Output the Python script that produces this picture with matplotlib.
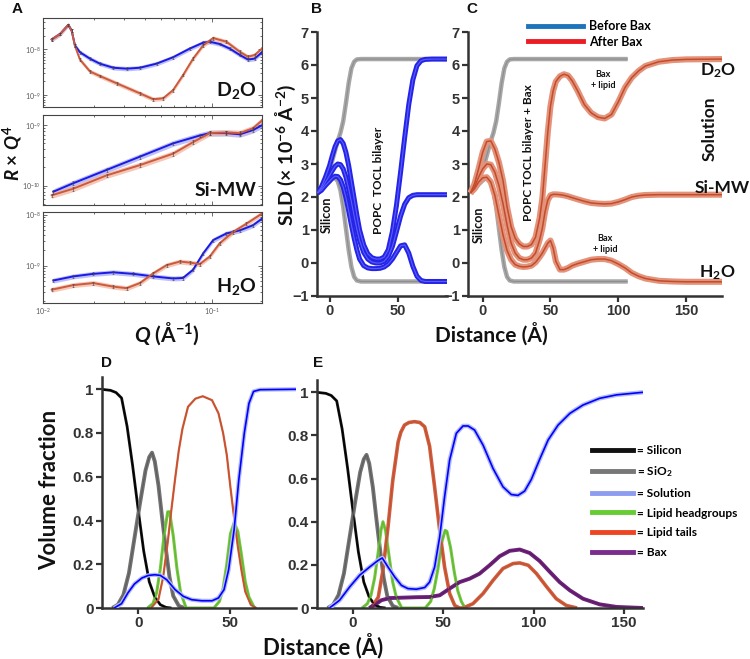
import numpy as np
import matplotlib.pyplot as plt
from matplotlib.lines import Line2D
from matplotlib.ticker import NullFormatter

plt.rcParams['font.family'] = ['Lato', 'DejaVu Sans']
plt.rcParams['mathtext.fontset'] = 'custom'
plt.rcParams['mathtext.rm'] = 'Lato:bold'
plt.rcParams['mathtext.it'] = 'Lato:italic:bold'
plt.rcParams['mathtext.bf'] = 'Lato:bold'

TICK_FONT = 'Liberation Sans'
INK = '#333333'
W, H = 750, 659

# ---------------- A: reflectivity  R x Q^4  (Q in 1/A, values as log10)
q_d2o_before = [0.01126, 0.01262, 0.01412, 0.01479, 0.01546, 0.01655, 0.01897, 0.0217, 0.0261, 0.0313,
                0.0375, 0.0471, 0.059, 0.0741, 0.0889, 0.0973, 0.1115, 0.1278, 0.1466, 0.164, 0.1796, 0.1985]
r_d2o_before = [-7.78, -7.66, -7.46, -7.59, -7.91, -8.06, -8.20, -8.31, -8.40, -8.42,
                -8.40, -8.31, -8.17, -7.98, -7.85, -7.83, -7.88, -7.98, -8.12, -8.22, -8.20, -8.06]
q_d2o_after = [0.01126, 0.01262, 0.01412, 0.01479, 0.01546, 0.01655, 0.01897, 0.0217, 0.0273, 0.0375, 0.045,
               0.0515, 0.059, 0.0676, 0.0775, 0.0889, 0.1019, 0.1222, 0.1466, 0.164, 0.1796, 0.1985]
r_d2o_after = [-7.78, -7.66, -7.46, -7.59, -7.92, -8.22, -8.48, -8.58, -8.74, -8.96, -9.09,
               -9.07, -8.89, -8.56, -8.20, -7.91, -7.75, -7.83, -8.05, -8.16, -8.12, -7.98]

q_simw_before = [0.01151, 0.0151, 0.0238, 0.0375, 0.059, 0.0849, 0.0973, 0.1222, 0.1466, 0.1754, 0.1985]
r_simw_before = [-10.10, -9.96, -9.74, -9.52, -9.30, -9.17, -9.13, -9.13, -9.15, -9.08, -9.00]
q_simw_after = [0.01126, 0.0151, 0.0238, 0.0375, 0.059, 0.0775, 0.0973, 0.1222, 0.1466, 0.1754, 0.1985]
r_simw_after = [-10.16, -10.05, -9.83, -9.66, -9.47, -9.28, -9.13, -9.12, -9.13, -9.05, -8.92]

q_h2o_before = [0.01151, 0.0151, 0.01986, 0.0261, 0.0342, 0.045, 0.059, 0.0676, 0.0775, 0.0889, 0.1019,
                0.1222, 0.1466, 0.1754, 0.1985]
r_h2o_before = [-9.29, -9.21, -9.16, -9.13, -9.16, -9.21, -9.25, -9.24, -9.08, -8.76, -8.50,
                -8.37, -8.31, -8.21, -8.08]
q_h2o_after = [0.01126, 0.0151, 0.01986, 0.0261, 0.0313, 0.0375, 0.045, 0.054, 0.0647, 0.0741, 0.0849,
               0.0973, 0.1115, 0.1339, 0.1602, 0.1985]
r_h2o_after = [-9.47, -9.38, -9.34, -9.41, -9.44, -9.34, -9.15, -8.99, -8.92, -8.94, -8.97,
               -8.82, -8.56, -8.34, -8.18, -7.98]

a_names = ['D$_2$O', 'Si-MW', 'H$_2$O']
a_ylims = [(-9.26, -7.31), (-10.32, -8.83), (-9.73, -7.95)]

# ---------------- B / C: SLD profiles (x 1e-6 A^-2)
sub_x = [-9, -6, -3, 0, 2, 4, 6, 8, 10, 12, 14, 16, 18, 20, 23, 26]
sub_d2o = [2.12, 2.3, 2.55, 2.85, 3.1, 3.4, 3.7, 3.95, 4.3, 4.85, 5.45, 5.9, 6.1, 6.17, 6.18, 6.18]
sub_h2o = [2.12, 2.22, 2.38, 2.5, 2.56, 2.57, 2.48, 2.2, 1.7, 1.05, 0.4, -0.12, -0.42, -0.53, -0.56, -0.56]

xb = [-9, -6, -3, 0, 2, 4, 6, 8, 10, 12, 14, 16, 18, 20, 22, 25, 28, 31, 34, 37, 40, 43, 46, 49, 52,
      55, 58, 61, 64, 67, 70, 75, 86]
sld_before_d2o = [2.12, 2.3, 2.6, 2.95, 3.25, 3.52, 3.7, 3.74, 3.62, 3.35, 2.95, 2.45, 1.95, 1.45, 1.0,
                  0.55, 0.28, 0.16, 0.12, 0.12, 0.18, 0.4, 0.95, 1.75, 2.75, 3.8, 4.8, 5.55, 5.98, 6.13,
                  6.17, 6.18, 6.18]
sld_before_simw = [2.12, 2.25, 2.45, 2.65, 2.8, 2.93, 3.0, 2.98, 2.85, 2.6, 2.25, 1.85, 1.42, 1.02, 0.68,
                   0.32, 0.12, 0.03, 0.0, 0.0, 0.05, 0.2, 0.5, 0.95, 1.42, 1.78, 1.98, 2.05, 2.07, 2.07,
                   2.07, 2.07, 2.07]
sld_before_h2o = [2.12, 2.2, 2.35, 2.48, 2.57, 2.63, 2.62, 2.52, 2.3, 1.98, 1.58, 1.15, 0.75, 0.4, 0.12,
                  -0.08, -0.15, -0.17, -0.17, -0.16, -0.12, -0.03, 0.12, 0.32, 0.52, 0.55, 0.3, -0.1,
                  -0.4, -0.53, -0.56, -0.56, -0.56]

xc = [-9, -6, -3, 0, 3, 6, 9, 12, 15, 18, 21, 24, 27, 30, 33, 36, 39, 42, 44, 46, 48, 50, 52, 54, 57,
      60, 63, 66, 70, 75, 80, 85, 90, 95, 100, 105, 110, 115, 120, 130, 140, 150, 177]
sld_after_d2o = [2.12, 2.4, 2.85, 3.35, 3.68, 3.7, 3.45, 3.05, 2.5, 1.7, 1.1, 0.75, 0.58, 0.5, 0.5, 0.56,
                 0.78, 1.35, 1.95, 2.95, 3.95, 4.75, 5.22, 5.5, 5.66, 5.72, 5.68, 5.52, 5.22, 4.8, 4.55,
                 4.42, 4.38, 4.5, 4.88, 5.32, 5.62, 5.82, 5.97, 6.1, 6.15, 6.17, 6.18]
sld_after_simw = [2.12, 2.3, 2.6, 2.85, 3.0, 2.98, 2.75, 2.35, 1.8, 1.15, 0.6, 0.3, 0.15, 0.1, 0.1, 0.15,
                  0.3, 0.7, 1.05, 1.55, 1.9, 2.05, 2.08, 2.08, 2.07, 2.05, 2.02, 1.98, 1.93, 1.87, 1.82,
                  1.8, 1.79, 1.8, 1.85, 1.92, 2.0, 2.04, 2.06, 2.07, 2.07, 2.07, 2.07]
sld_after_h2o = [2.12, 2.25, 2.45, 2.58, 2.6, 2.45, 2.05, 1.45, 0.85, 0.38, 0.1, -0.05, -0.1, -0.12, -0.11,
                 -0.08, 0.02, 0.18, 0.3, 0.45, 0.6, 0.68, 0.45, 0.05, -0.2, -0.2, -0.15, -0.08, -0.02,
                 0.04, 0.1, 0.12, 0.12, 0.07, -0.03, -0.15, -0.3, -0.4, -0.47, -0.54, -0.56, -0.57, -0.57]

# ---------------- D / E: volume fractions
si_x = [-20, -15, -12, -9, -6, -3, 0, 3, 6, 9, 12, 15, 18]
si_v = [1.0, 0.995, 0.985, 0.96, 0.83, 0.65, 0.45, 0.26, 0.12, 0.05, 0.015, 0.003, 0.0]
sio2_x = [-14, -11, -8, -5, -2, 1, 4, 6, 7.5, 9, 11, 13, 15, 17, 19, 22, 25]
sio2_v = [0.0, 0.015, 0.06, 0.16, 0.32, 0.48, 0.63, 0.69, 0.71, 0.67, 0.56, 0.41, 0.27, 0.14, 0.055, 0.01, 0.0]

d_head_x = [5, 8, 10, 12, 14, 16, 17, 19, 21, 23, 26, 41, 44, 46, 48, 50, 52, 54, 56, 58, 60, 63]
d_head_v = [0.0, 0.02, 0.07, 0.18, 0.33, 0.44, 0.44, 0.33, 0.18, 0.07, 0.0, 0.0, 0.03, 0.09, 0.2, 0.34,
            0.39, 0.35, 0.24, 0.12, 0.05, 0.0]
d_tail_x = [7, 11, 13.5, 16, 18, 20, 22, 24, 27, 31, 35, 40, 43.5, 46, 48, 50, 52, 54, 56, 58, 61, 64]
d_tail_v = [0.0, 0.04, 0.14, 0.3, 0.45, 0.59, 0.72, 0.82, 0.92, 0.957, 0.968, 0.95, 0.89, 0.8, 0.7, 0.55,
            0.41, 0.28, 0.17, 0.075, 0.015, 0.0]
d_sol_x = [-13, -9, -5.5, -2, 2, 5.5, 9, 12, 15.5, 20, 24.5, 29, 34.5, 40, 43.5, 46.5, 49, 52, 54.5, 57.5,
           60, 62.5, 66, 86]
d_sol_v = [0.0, 0.02, 0.07, 0.11, 0.137, 0.149, 0.152, 0.149, 0.129, 0.084, 0.053, 0.038, 0.033, 0.033,
           0.046, 0.084, 0.175, 0.36, 0.585, 0.8, 0.935, 0.99, 0.998, 1.0]

e_head_x = [5, 8, 10, 12, 14, 15.5, 16.6, 18, 20, 22, 24, 27, 40, 43, 45, 47, 49, 51, 52, 54, 56, 58, 60, 62]
e_head_v = [0.0, 0.02, 0.06, 0.14, 0.26, 0.36, 0.40, 0.36, 0.24, 0.12, 0.05, 0.0, 0.0, 0.03, 0.09, 0.18,
            0.3, 0.36, 0.355, 0.28, 0.17, 0.08, 0.03, 0.0]
e_tail_x = [10, 14, 16.6, 19.4, 22, 25, 26.5, 28.5, 31, 34, 37, 39.7, 42.4, 45.2, 48, 50.7, 53.5, 56.3, 59,
            61, 66.4, 72, 77.5, 83, 88.6, 92.3, 97, 101.5, 107, 112.5, 118, 124]
e_tail_v = [0.0, 0.05, 0.175, 0.376, 0.59, 0.77, 0.815, 0.848, 0.86, 0.864, 0.86, 0.84, 0.75, 0.56, 0.36,
            0.19, 0.067, 0.012, 0.0, 0.0, 0.02, 0.067, 0.128, 0.183, 0.206, 0.209, 0.198, 0.16, 0.1, 0.043,
            0.012, 0.0]
e_bax_x = [9, 13, 15.7, 20.3, 27.7, 35, 42.4, 48, 53.5, 59, 64.6, 70, 75.6, 81.2, 86.7, 92.3, 97.8, 103.3,
           109, 114.4, 120, 127.3, 136.5, 145.8, 160.5]
e_bax_v = [0.0, 0.02, 0.036, 0.046, 0.048, 0.05, 0.051, 0.059, 0.09, 0.12, 0.136, 0.159, 0.198, 0.24, 0.265,
           0.271, 0.255, 0.218, 0.167, 0.12, 0.082, 0.043, 0.017, 0.005, 0.0]
e_sol_x = [-13, -7.4, -1.8, 3.7, 9.2, 13.8, 16.2, 19.4, 23.1, 26.8, 30.4, 35, 39.7, 42.4, 45.2, 48, 50.7,
           53.5, 57.2, 60.9, 63.7, 67.3, 72, 77.5, 83, 87.6, 91.3, 95, 98.7, 103.3, 108, 113.5, 120, 127.3,
           136.5, 145.8, 160.5]
e_sol_v = [0.0, 0.036, 0.098, 0.152, 0.19, 0.22, 0.232, 0.19, 0.144, 0.105, 0.09, 0.087, 0.095, 0.12, 0.19,
           0.33, 0.515, 0.686, 0.81, 0.844, 0.844, 0.825, 0.755, 0.647, 0.562, 0.526, 0.522, 0.542, 0.596,
           0.689, 0.779, 0.848, 0.902, 0.941, 0.972, 0.988, 1.0]

legend_e_labels = ['= Silicon', '= SiO$_2$', '= Solution', '= Lipid headgroups', '= Lipid tails', '= Bax']
legend_e_colors = ['#111111', '#777777', '#8c9cf0', '#66cc33', '#ee4422', '#7a2d8c']


def box(x0, y0, x1, y1):
    # pixel box (top-left origin) -> figure fraction
    return [x0 / W, 1 - y1 / H, (x1 - x0) / W, (y1 - y0) / H]


def bold_ticks(ax, size):
    for lbl in ax.get_xticklabels() + ax.get_yticklabels():
        lbl.set_fontfamily(TICK_FONT)
        lbl.set_fontweight('bold')
        lbl.set_fontsize(size)


def style_profile(ax):
    for side in ('top', 'right'):
        ax.spines[side].set_visible(False)
    for side in ('left', 'bottom'):
        ax.spines[side].set_linewidth(1.8)
        ax.spines[side].set_color(INK)
    ax.tick_params(direction='out', length=4, width=1.6, color=INK, labelcolor=INK, pad=2)


def band_line(ax, x, y, outer, inner, w_out, w_in, z=2):
    ax.plot(x, y, color=outer, lw=w_out, solid_capstyle='butt', zorder=z)
    ax.plot(x, y, color=inner, lw=w_in, solid_capstyle='butt', zorder=z + 0.1)


fig = plt.figure(figsize=(7.5, 6.59), dpi=100)

# ---- panel A
a_boxes = [(43, 18, 262, 107), (43, 115, 262, 205), (43, 212, 262, 303)]
a_data = [(q_d2o_before, r_d2o_before, q_d2o_after, r_d2o_after),
          (q_simw_before, r_simw_before, q_simw_after, r_simw_after),
          (q_h2o_before, r_h2o_before, q_h2o_after, r_h2o_after)]
for i, (bx, (qb, rb, qa, ra)) in enumerate(zip(a_boxes, a_data)):
    ax = fig.add_axes(box(*bx))
    vb = 10.0 ** np.array(rb)
    va = 10.0 ** np.array(ra)
    ax.fill_between(qb, vb / 1.12, vb * 1.12, color='#a4a5f5', lw=0, alpha=0.7)
    ax.fill_between(qa, va / 1.12, va * 1.12, color='#f2b09a', lw=0, alpha=0.7)
    ax.plot(qb, vb, color='#1a1ae6', lw=1.4)
    ax.plot(qa, va, color='#cc5a3c', lw=1.4)
    for q, v in ((qb, vb), (qa, va)):
        ax.errorbar(q, v, yerr=v * 0.07, fmt='none', ecolor='#444444', elinewidth=0.4,
                    capsize=1.0, capthick=0.4)
    ax.set_xscale('log')
    ax.set_yscale('log')
    ax.set_xlim(0.01, 0.1985)
    ax.set_ylim(10 ** a_ylims[i][0], 10 ** a_ylims[i][1])
    ax.yaxis.set_minor_formatter(NullFormatter())
    ax.xaxis.set_minor_formatter(NullFormatter())
    ax.tick_params(which='both', direction='in', top=True, right=True, width=0.6,
                   color='#555555', labelcolor='#555555', labelsize=5, pad=2)
    ax.tick_params(which='major', length=3)
    ax.tick_params(which='minor', length=1.5)
    if i < 2:
        ax.tick_params(labelbottom=False)
    for s in ax.spines.values():
        s.set_linewidth(0.8)
        s.set_color('#444444')
    ax.text(0.975, 0.07, a_names[i], transform=ax.transAxes, ha='right', va='bottom',
            fontsize=14, fontweight='bold', color='#111111')

fig.text(12 / W, 1 - 153 / H, '$R$ × $Q^4$', rotation=90, ha='center', va='center',
         fontsize=13.5, fontweight='bold', color='#111111')
fig.text(167 / W, 1 - 334 / H, '$Q$ (Å$^{-1}$)', ha='center', va='center',
         fontsize=15, fontweight='bold', color='#111111')

# ---- panel B
axb = fig.add_axes(box(317, 32, 447, 296))
band_line(axb, sub_x + [86], sub_d2o + [sub_d2o[-1]], '#a8a8a8', '#8e8e8e', 3.2, 0.8)
band_line(axb, sub_x + [86], sub_h2o + [sub_h2o[-1]], '#a8a8a8', '#8e8e8e', 3.2, 0.8)
for y in (sld_before_d2o, sld_before_simw, sld_before_h2o):
    band_line(axb, xb, y, '#2424e6', '#5c5cff', 3.6, 0.8, z=3)
axb.set_xlim(-9.2, 86)
axb.set_ylim(-1, 7)
axb.set_xticks([0, 50])
axb.set_yticks(range(-1, 8))
style_profile(axb)
bold_ticks(axb, 10.5)
axb.text(-2.4, 1.45, 'Silicon', rotation=90, ha='center', va='center', fontsize=9,
         fontweight='bold', color='#111111')
axb.text(35.9, 2.5, 'POPC  TOCL bilayer', rotation=90, ha='center', va='center', fontsize=8.5,
         fontweight='bold', color='#111111')
fig.text(286 / W, 1 - 155 / H, 'SLD (× 10$^{-6}$ Å$^{-2}$)', rotation=90, ha='center', va='center',
         fontsize=14, fontweight='bold', color='#111111')

# ---- panel C
axc = fig.add_axes(box(468, 32, 722, 296))
band_line(axc, sub_x + [107], sub_d2o + [sub_d2o[-1]], '#a8a8a8', '#8e8e8e', 3.2, 0.8)
band_line(axc, sub_x + [107], sub_h2o + [sub_h2o[-1]], '#a8a8a8', '#8e8e8e', 3.2, 0.8)
for y in (sld_after_d2o, sld_after_simw, sld_after_h2o):
    band_line(axc, xc, y, '#e3937a', '#c44b2c', 4.4, 1.1, z=3)
axc.set_xlim(-10.8, 176.5)
axc.set_ylim(-1, 7)
axc.set_xticks([0, 50, 100, 150])
axc.set_yticks(range(-1, 8))
style_profile(axc)
bold_ticks(axc, 10.5)
axc.text(-3.2, 1.15, 'Silicon', rotation=90, ha='center', va='center', fontsize=9,
         fontweight='bold', color='#111111')
axc.text(33.7, 3.33, 'POPC TOCL bilayer + Bax', rotation=90, ha='center', va='center', fontsize=8.5,
         fontweight='bold', color='#111111')
axc.text(89, 5.54, 'Bax\n+ lipid', ha='center', va='center', fontsize=6.5, fontweight='bold',
         color='#111111', linespacing=1.3)
axc.text(90.5, 0.57, 'Bax\n+ lipid', ha='center', va='center', fontsize=6.5, fontweight='bold',
         color='#111111', linespacing=1.3)
for txt, px, py, rot in (('D$_2$O', 718, 71, 0), ('Solution', 710, 129, 90),
                         ('Si-MW', 722, 188, 0), ('H$_2$O', 717, 273, 0)):
    fig.text(px / W, 1 - py / H, txt, rotation=rot, ha='center', va='center', fontsize=12.5,
             fontweight='bold', color='#111111')
axc.legend([Line2D([], [], color='#1c75bc', lw=3.5), Line2D([], [], color='#ed1c24', lw=3.5)],
           ['Before Bax', 'After Bax'], loc='upper left', bbox_to_anchor=(528 / W, 1 - 20 / H),
           bbox_transform=fig.transFigure, frameon=False, handlelength=4.4, handletextpad=0.5,
           labelspacing=0.3, borderpad=0, borderaxespad=0,
           prop={'family': 'Lato', 'weight': 'bold', 'size': 9})

fig.text(491 / W, 1 - 334 / H, 'Distance (Å)', ha='center', va='center', fontsize=15,
         fontweight='bold', color='#111111')

# ---- panel D
axd = fig.add_axes(box(102, 377, 296, 608))
band_line(axd, si_x, si_v, '#151515', '#000000', 2.0, 0.8)
band_line(axd, sio2_x, sio2_v, '#737373', '#5e5e5e', 2.8, 0.8)
band_line(axd, d_head_x, d_head_v, '#78c845', '#62b830', 2.2, 0.8)
band_line(axd, d_tail_x, d_tail_v, '#d3603f', '#c4502e', 1.6, 0.8)
band_line(axd, d_sol_x, d_sol_v, '#b4bbf6', '#0000ff', 3.0, 1.2, z=3)
axd.set_xlim(-19.6, 85.5)
axd.set_ylim(0, 1.056)
axd.set_xticks([0, 50])
axd.set_yticks([0, 0.2, 0.4, 0.6, 0.8, 1.0])
axd.set_yticklabels(['0', '0.2', '0.4', '0.6', '0.8', '1'])
style_profile(axd)
bold_ticks(axd, 11)

# ---- panel E
axe = fig.add_axes(box(317, 380, 643, 608))
band_line(axe, si_x, si_v, '#151515', '#000000', 2.0, 0.8)
band_line(axe, sio2_x, sio2_v, '#737373', '#5e5e5e', 2.8, 0.8)
band_line(axe, e_head_x, e_head_v, '#78c845', '#62b830', 2.2, 0.8)
band_line(axe, e_tail_x, e_tail_v, '#cf5f40', '#c4502e', 2.6, 0.8)
band_line(axe, e_bax_x, e_bax_v, '#6e2379', '#5e1a6a', 2.8, 0.8)
band_line(axe, e_sol_x, e_sol_v, '#b4bbf6', '#0000ff', 3.2, 1.2, z=3)
axe.set_xlim(-19.9, 160.5)
axe.set_ylim(0, 1.057)
axe.set_xticks([0, 50, 100, 150])
axe.set_yticks([0, 0.2, 0.4, 0.6, 0.8, 1.0])
axe.set_yticklabels(['0', '0.2', '0.4', '0.6', '0.8', '1'])
style_profile(axe)
bold_ticks(axe, 11)
axe.legend([Line2D([], [], color=c, lw=3.5) for c in legend_e_colors], legend_e_labels,
           loc='upper left', bbox_to_anchor=(592 / W, 1 - 445 / H), bbox_transform=fig.transFigure,
           frameon=False, handlelength=3.4, handletextpad=0.35, labelspacing=0.72, borderpad=0,
           borderaxespad=0, prop={'family': 'Lato', 'weight': 'bold', 'size': 8.6})

fig.text(50 / W, 1 - 490 / H, 'Volume fraction', rotation=90, ha='center', va='center',
         fontsize=16, fontweight='bold', color='#111111')
fig.text(323 / W, 1 - 646 / H, 'Distance (Å)', ha='center', va='center', fontsize=16,
         fontweight='bold', color='#111111')

# panel letters
for letter, px, py in (('A', 17, 9), ('B', 316, 9), ('C', 472, 9), ('D', 107, 363), ('E', 318, 363)):
    fig.text(px / W, 1 - py / H, letter, ha='center', va='center', fontsize=11,
             fontweight='bold', family=TICK_FONT, color='#111111')

fig.savefig('out.png', dpi=100)
